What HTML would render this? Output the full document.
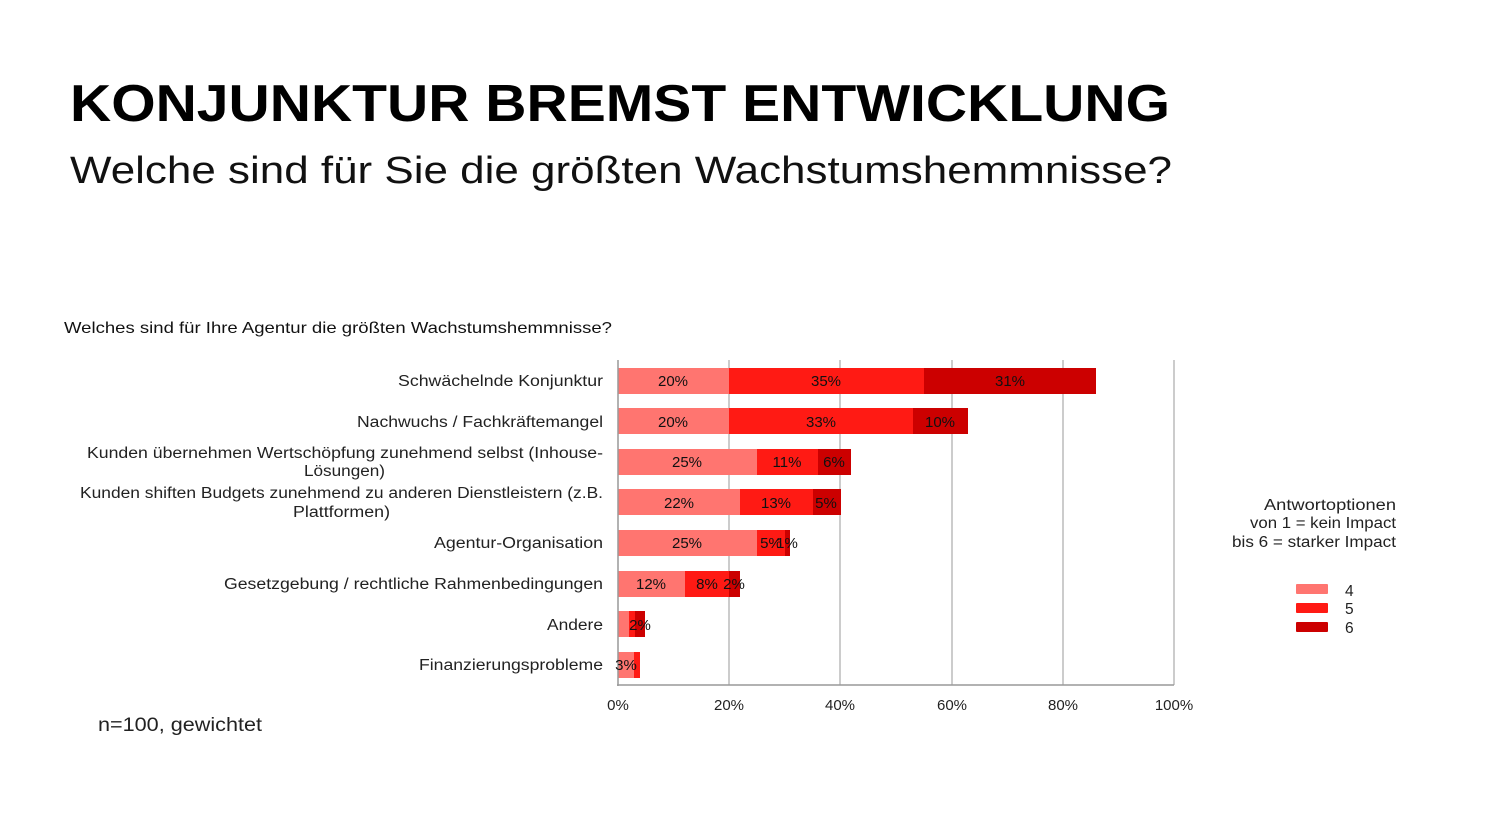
<!DOCTYPE html>
<html><head><meta charset="utf-8"><style>
body{margin:0;background:#fff;}
svg{display:block;font-family:"Liberation Sans",sans-serif;}
</style></head><body>
<svg width="1493" height="840" viewBox="0 0 1493 840" xmlns="http://www.w3.org/2000/svg">
<text x="70" y="121" font-size="52" font-weight="bold" textLength="1100" lengthAdjust="spacingAndGlyphs" fill="#000">KONJUNKTUR BREMST ENTWICKLUNG</text>
<text x="70" y="183" font-size="38" textLength="1102" lengthAdjust="spacingAndGlyphs" fill="#111">Welche sind für Sie die größten Wachstumshemmnisse?</text>
<text x="64" y="333" font-size="16" textLength="548" lengthAdjust="spacingAndGlyphs" fill="#111">Welches sind für Ihre Agentur die größten Wachstumshemmnisse?</text>
<g stroke="#bbb" stroke-width="1.5">
<line x1="729" y1="360" x2="729" y2="685"/><line x1="840" y1="360" x2="840" y2="685"/>
<line x1="952" y1="360" x2="952" y2="685"/><line x1="1063" y1="360" x2="1063" y2="685"/>
<line x1="1174" y1="360" x2="1174" y2="685"/>
</g>
<g>
<rect x="618" y="368" width="111" height="26" fill="#ff7570"/><rect x="729" y="368" width="195" height="26" fill="#ff1a14"/><rect x="924" y="368" width="172" height="26" fill="#cc0000"/>
<rect x="618" y="408" width="111" height="26" fill="#ff7570"/><rect x="729" y="408" width="184" height="26" fill="#ff1a14"/><rect x="913" y="408" width="55" height="26" fill="#cc0000"/>
<rect x="618" y="449" width="139" height="26" fill="#ff7570"/><rect x="757" y="449" width="61" height="26" fill="#ff1a14"/><rect x="818" y="449" width="33" height="26" fill="#cc0000"/>
<rect x="618" y="489" width="122" height="26" fill="#ff7570"/><rect x="740" y="489" width="73" height="26" fill="#ff1a14"/><rect x="813" y="489" width="28" height="26" fill="#cc0000"/>
<rect x="618" y="530" width="139" height="26" fill="#ff7570"/><rect x="757" y="530" width="28" height="26" fill="#ff1a14"/><rect x="785" y="530" width="5" height="26" fill="#cc0000"/>
<rect x="618" y="571" width="67" height="26" fill="#ff7570"/><rect x="685" y="571" width="44" height="26" fill="#ff1a14"/><rect x="729" y="571" width="11" height="26" fill="#cc0000"/>
<rect x="618" y="611" width="11" height="26" fill="#ff7570"/><rect x="629" y="611" width="6" height="26" fill="#ff1a14"/><rect x="635" y="611" width="10" height="26" fill="#cc0000"/>
<rect x="618" y="652" width="16" height="26" fill="#ff7570"/><rect x="634" y="652" width="6" height="26" fill="#ff1a14"/>
</g>
<line x1="618" y1="360" x2="618" y2="686" stroke="#999" stroke-width="1.5"/>
<line x1="617" y1="685" x2="1174" y2="685" stroke="#999" stroke-width="1.5"/>
<g font-size="15" fill="#111" text-anchor="middle">
<text x="673" y="386">20%</text><text x="826" y="386">35%</text><text x="1010" y="386">31%</text>
<text x="673" y="427">20%</text><text x="821" y="427">33%</text><text x="940" y="427">10%</text>
<text x="687" y="467">25%</text><text x="787" y="467">11%</text><text x="834" y="467">6%</text>
<text x="679" y="508">22%</text><text x="776" y="508">13%</text><text x="826" y="508">5%</text>
<text x="687" y="548">25%</text><text x="771" y="548">5%</text><text x="787" y="548">1%</text>
<text x="651" y="589">12%</text><text x="707" y="589">8%</text><text x="734" y="589">2%</text>
<text x="640" y="630">2%</text>
<text x="626" y="670">3%</text>
</g>
<g font-size="15.5" fill="#222">
<text x="398" y="386" textLength="205" lengthAdjust="spacingAndGlyphs">Schwächelnde Konjunktur</text>
<text x="357" y="427" textLength="246" lengthAdjust="spacingAndGlyphs">Nachwuchs / Fachkräftemangel</text>
<text x="87" y="458" textLength="516" lengthAdjust="spacingAndGlyphs">Kunden übernehmen Wertschöpfung zunehmend selbst (Inhouse-</text>
<text x="304" y="476" textLength="81" lengthAdjust="spacingAndGlyphs">Lösungen)</text>
<text x="80" y="498" textLength="523" lengthAdjust="spacingAndGlyphs">Kunden shiften Budgets zunehmend zu anderen Dienstleistern (z.B.</text>
<text x="293" y="517" textLength="97" lengthAdjust="spacingAndGlyphs">Plattformen)</text>
<text x="434" y="548" textLength="169" lengthAdjust="spacingAndGlyphs">Agentur-Organisation</text>
<text x="224" y="589" textLength="379" lengthAdjust="spacingAndGlyphs">Gesetzgebung / rechtliche Rahmenbedingungen</text>
<text x="547" y="630" textLength="56" lengthAdjust="spacingAndGlyphs">Andere</text>
<text x="419" y="670" textLength="184" lengthAdjust="spacingAndGlyphs">Finanzierungsprobleme</text>
</g>
<g font-size="15" fill="#222" text-anchor="middle">
<text x="618" y="710">0%</text><text x="729" y="710">20%</text><text x="840" y="710">40%</text>
<text x="952" y="710">60%</text><text x="1063" y="710">80%</text><text x="1174" y="710">100%</text>
</g>
<text x="98" y="731" font-size="19" fill="#222" textLength="164" lengthAdjust="spacingAndGlyphs">n=100, gewichtet</text>
<g font-size="15.5" fill="#222">
<text x="1264" y="510" textLength="132" lengthAdjust="spacingAndGlyphs">Antwortoptionen</text>
<text x="1250" y="528" textLength="146" lengthAdjust="spacingAndGlyphs">von 1 = kein Impact</text>
<text x="1232" y="547" textLength="164" lengthAdjust="spacingAndGlyphs">bis 6 = starker Impact</text>
</g>
<rect x="1296" y="584" width="32" height="10" rx="1" fill="#ff7570"/>
<rect x="1296" y="603" width="32" height="10" rx="1" fill="#ff1a14"/>
<rect x="1296" y="622" width="32" height="10" rx="1" fill="#cc0000"/>
<g font-size="15.5" fill="#222">
<text x="1345" y="596">4</text><text x="1345" y="614">5</text><text x="1345" y="633">6</text>
</g>
</svg>
</body></html>
